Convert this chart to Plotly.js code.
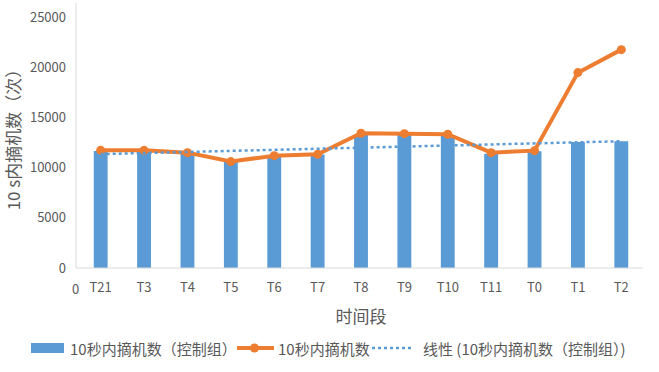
<!DOCTYPE html>
<html>
<head>
<meta charset="utf-8">
<script src="https://cdn.plot.ly/plotly-3.0.1.min.js"></script>
<style>html,body{margin:0;padding:0;background:#fff;}#chart{width:659px;height:372px;}</style>
</head>
<body>
<div id="chart"></div>
<script>
// ---- data ----
var categories = ["T21","T3","T4","T5","T6","T7","T8","T9","T10","T11","T0","T1","T2"];
var controlValues = [11650,11600,11450,10650,11200,11300,13300,13250,13220,11390,11620,12550,12620];
var pickupValues = [11720,11720,11490,10600,11190,11320,13420,13380,13320,11490,11690,19460,21750];
var yTickValues = [0,5000,10000,15000,20000,25000];
var controlName = "10秒内摘机数（控制组）";
var pickupName = "10秒内摘机数";
var trendName = "线性 (10秒内摘机数（控制组）)";
var xTitle = "时间段";
var yTitle = "10 s内摘机数（次）";

// linear trendline (least squares fit of control group, as Excel does)
function linearFit(vals){
  var n = vals.length, sx=0, sy=0, sxx=0, sxy=0;
  for (var i=0;i<n;i++){ sx+=i; sy+=vals[i]; sxx+=i*i; sxy+=i*vals[i]; }
  var slope = (n*sxy - sx*sy)/(n*sxx - sx*sx);
  var icpt = (sy - slope*sx)/n;
  return vals.map(function(_,i){ return icpt + slope*i; });
}
var trendValues = linearFit(controlValues);

// ---- layout geometry ----
var W=659, H=372, L=79, R=16, T=3, B=104;
var pw = W-L-R, ph = H-T-B;
function px(x){ return (x-L)/pw; }
function py(y){ return (H-B-y)/ph; }

var fontFam = "'Noto Sans CJK SC', 'Open Sans', sans-serif";
var grey = "#595959";
var blue = "#5b9bd5", orange = "#ed7d31";

var traces = [
  {type:"bar", x:categories, y:controlValues, name:controlName, marker:{color:blue}, showlegend:false, hoverinfo:"x+y"},
  {type:"scatter", mode:"lines+markers", x:categories, y:pickupValues, name:pickupName,
   line:{color:orange, width:4}, marker:{color:orange, size:9}, showlegend:false},
  {type:"scatter", mode:"lines", x:categories, y:trendValues, name:trendName,
   line:{color:blue, width:2.5, dash:"dot"}, showlegend:false}
];

var legY = 348;
var shapes = [
  {type:"line", xref:"paper", yref:"paper", x0:px(76), x1:px(76), y0:py(3), y1:py(268), line:{color:"#d9d9d9", width:1}},
  {type:"line", xref:"paper", yref:"paper", x0:px(76), x1:px(643), y0:py(268), y1:py(268), line:{color:"#d9d9d9", width:1}},
  // legend swatches
  {type:"rect", xref:"paper", yref:"paper", x0:px(31), x1:px(64), y0:py(343), y1:py(353), fillcolor:blue, line:{width:0}},
  {type:"line", xref:"paper", yref:"paper", x0:px(237), x1:px(274), y0:py(legY), y1:py(legY), line:{color:orange, width:4}},
  {type:"circle", xref:"paper", yref:"paper", x0:px(250), x1:px(259), y0:py(legY+4.5), y1:py(legY-4.5), fillcolor:orange, line:{width:0}},
  {type:"line", xref:"paper", yref:"paper", x0:px(372), x1:px(413), y0:py(legY), y1:py(legY), line:{color:blue, width:2.5, dash:"dot"}}
];

var annotations = [
  {xref:"paper", yref:"paper", x:px(75), y:py(288), text:"0", showarrow:false, xanchor:"center", yanchor:"middle", font:{family:fontFam, size:13, color:grey}},
  {xref:"paper", yref:"paper", x:px(68), y:py(legY), text:controlName, showarrow:false, xanchor:"left", yanchor:"middle", font:{family:fontFam, size:15, color:grey}},
  {xref:"paper", yref:"paper", x:px(276), y:py(legY), text:pickupName, showarrow:false, xanchor:"left", yanchor:"middle", font:{family:fontFam, size:15, color:grey}},
  {xref:"paper", yref:"paper", x:px(421), y:py(legY), text:trendName, showarrow:false, xanchor:"left", yanchor:"middle", font:{family:fontFam, size:15, color:grey}}
];

var layout = {
  width:W, height:H,
  margin:{l:L, r:R, t:T, b:B, pad:0},
  paper_bgcolor:"#fff", plot_bgcolor:"#fff",
  font:{family:fontFam, color:grey, size:13},
  bargap:0.68,
  showlegend:false,
  xaxis:{type:"category", categoryorder:"array", categoryarray:categories, range:[-0.5, categories.length-0.5],
    showline:false, showgrid:false, zeroline:false, ticks:"", ticklabelstandoff:10,
    tickfont:{family:fontFam, size:13, color:grey},
    title:{text:xTitle, font:{family:fontFam, size:17, color:grey}, standoff:16}},
  yaxis:{range:[0,26394], tickvals:yTickValues, ticktext:yTickValues.map(String),
    showline:false, showgrid:false, zeroline:false, ticks:"", ticklabelstandoff:12,
    tickfont:{family:fontFam, size:13, color:grey},
    title:{text:yTitle, font:{family:fontFam, size:17, color:grey}, standoff:12}},
  shapes:shapes,
  annotations:annotations
};

Plotly.newPlot("chart", traces, layout, {displayModeBar:false, staticPlot:true});
</script>
</body>
</html>
